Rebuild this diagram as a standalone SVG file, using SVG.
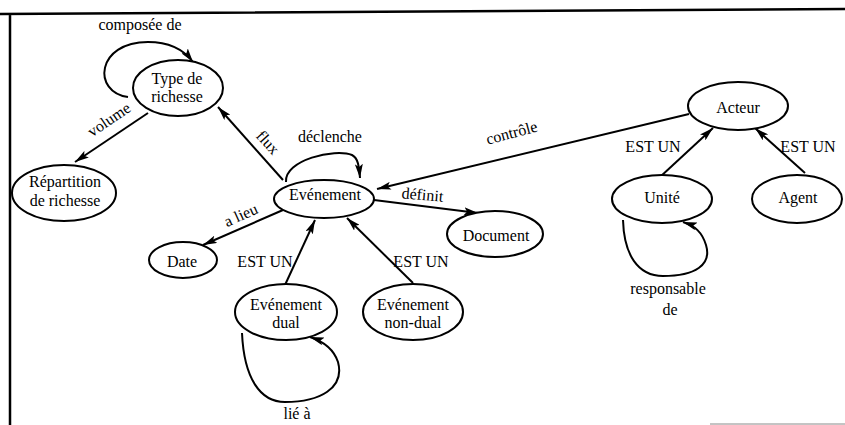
<svg xmlns="http://www.w3.org/2000/svg" width="845" height="425" viewBox="0 0 845 425">
<style>
.n ellipse{fill:#fff;stroke:#000;stroke-width:2}
text{font-family:'Liberation Serif','Times New Roman','DejaVu Serif',serif;font-size:16px;fill:#000;text-anchor:middle}
.c path,.c line{fill:none;stroke:#000;stroke-width:2}
.frame{stroke:#000;stroke-width:2.5;fill:none}
</style>
<defs>
<marker id="ah" markerUnits="userSpaceOnUse" markerWidth="14" markerHeight="8" refX="14" refY="4" orient="auto">
<path d="M0,0 L14,4 L0,8 L3,4 z" fill="#000"/>
</marker>
</defs>
<path class="frame" d="M0,14 L845,9 M10,13 L10,425"/>
<line x1="710" y1="424" x2="845" y2="424" stroke="#888" stroke-width="1"/>
<g class="c">
<path d="M128 97 C 92 92, 96 42, 148 42 C 170 42, 184 50, 193 62" marker-end="url(#ah)"/>
<line x1="148" y1="113" x2="75" y2="162" marker-end="url(#ah)"/>
<line x1="283" y1="180" x2="218" y2="107" marker-end="url(#ah)"/>
<path d="M286 182 C 284 160, 335 148, 352 155 C 358 158, 359 166, 360 178" marker-end="url(#ah)"/>
<line x1="689" y1="114" x2="377" y2="189" marker-end="url(#ah)"/>
<line x1="374" y1="200" x2="478" y2="213" marker-end="url(#ah)"/>
<line x1="283" y1="210" x2="203" y2="245" marker-end="url(#ah)"/>
<line x1="285" y1="285" x2="315" y2="220" marker-end="url(#ah)"/>
<line x1="413" y1="283" x2="347" y2="218" marker-end="url(#ah)"/>
<path d="M242 333 C 244 378, 260 402, 285 402 C 320 402, 345 388, 338 362 C 334 350, 325 342, 310 337" marker-end="url(#ah)"/>
<line x1="660" y1="177" x2="713" y2="128" marker-end="url(#ah)"/>
<line x1="805" y1="173" x2="755" y2="128" marker-end="url(#ah)"/>
<path d="M623 220 C 624 255, 638 276, 663 276 C 695 276, 712 265, 706 245 C 702 232, 695 226, 683 222" marker-end="url(#ah)"/>
</g>
<g id="type-richesse" class="n"><ellipse cx="178" cy="88" rx="45" ry="28"/><text x="177" y="84">Type de</text><text x="177" y="102">richesse</text></g>
<g id="repartition" class="n"><ellipse cx="64" cy="193" rx="52" ry="28"/><text x="65" y="187">Répartition</text><text x="65" y="206">de richesse</text></g>
<g id="date" class="n"><ellipse cx="183" cy="260" rx="34" ry="18"/><text x="182" y="267">Date</text></g>
<g id="evenement" class="n"><ellipse cx="324" cy="199" rx="50" ry="19"/><text x="325" y="200">Evénement</text></g>
<g id="document" class="n"><ellipse cx="495" cy="234" rx="48" ry="23"/><text x="496" y="241">Document</text></g>
<g id="evenement-dual" class="n"><ellipse cx="286" cy="312" rx="51" ry="28"/><text x="286" y="310">Evénement</text><text x="286" y="328">dual</text></g>
<g id="evenement-nondual" class="n"><ellipse cx="413" cy="312" rx="50" ry="28"/><text x="413" y="310">Evénement</text><text x="413" y="328">non-dual</text></g>
<g id="acteur" class="n"><ellipse cx="738" cy="106" rx="50" ry="24"/><text x="738" y="113">Acteur</text></g>
<g id="unite" class="n"><ellipse cx="662" cy="199" rx="50" ry="24"/><text x="662" y="203">Unité</text></g>
<g id="agent" class="n"><ellipse cx="797" cy="199" rx="45" ry="24"/><text x="798" y="203">Agent</text></g>
<g id="labels">
<text x="140" y="30">composée de</text>
<text transform="translate(112,124) rotate(-34)">volume</text>
<text transform="translate(264,146) rotate(48)">flux</text>
<text x="330" y="142">déclenche</text>
<text transform="translate(513,138) rotate(-15)">contrôle</text>
<text transform="translate(422,200) rotate(5)">définit</text>
<text transform="translate(243,220) rotate(-24)">a lieu</text>
<text x="265" y="267">EST UN</text>
<text x="421" y="267">EST UN</text>
<text x="297" y="419">lié à</text>
<text x="653" y="152">EST UN</text>
<text x="808" y="152">EST UN</text>
<text x="668" y="294">responsable</text>
<text x="670" y="315">de</text>
</g>
</svg>
